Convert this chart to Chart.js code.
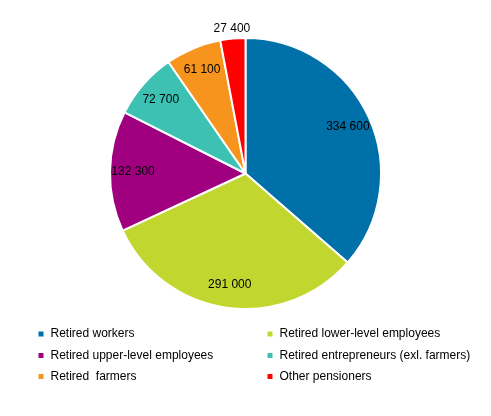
<!DOCTYPE html>
<html>
<head>
<meta charset="utf-8">
<script src="https://cdn.jsdelivr.net/npm/chart.js@4.4.1/dist/chart.umd.min.js"></script>
<style>
  html, body { margin: 0; padding: 0; background: #fff; }
  #wrap { width: 491px; height: 416px; position: relative; }
</style>
</head>
<body>
<div id="wrap"><canvas id="chart"></canvas></div>
<script>
const categories = [
  'Retired workers',
  'Retired lower-level employees',
  'Retired upper-level employees',
  'Retired entrepreneurs (exl. farmers)',
  'Retired  farmers',
  'Other pensioners'
]
const pensioners = [334600, 291000, 132300, 72700, 61100, 27400]
const colors = ['#0070a8', '#c1d72f', '#a0007f', '#3cc1b3', '#f7941d', '#ff0000']

const fmt = (v) => String(v).replace(/\B(?=(\d{3})+(?!\d))/g, ' ')

// value labels: inside the slice, small slices go just outside
const sliceLabels = {
  id: 'sliceLabels',
  afterDatasetsDraw (chart) {
    const ctx = chart.ctx
    const meta = chart.getDatasetMeta(0)
    ctx.save()
    ctx.font = '12px "Liberation Sans", Arial, sans-serif'
    ctx.fillStyle = '#000'
    ctx.textAlign = 'center'
    ctx.textBaseline = 'middle'
    meta.data.forEach((arc, i) => {
      const p = arc.getProps(['x', 'y', 'startAngle', 'endAngle', 'outerRadius'], true)
      const mid = (p.startAngle + p.endAngle) / 2
      const span = p.endAngle - p.startAngle
      const r = span < 0.3 ? p.outerRadius + 10 : p.outerRadius * 0.83
      ctx.fillText(fmt(pensioners[i]), p.x + Math.cos(mid) * r, p.y + Math.sin(mid) * r)
    })
    ctx.restore()
  }
}

// two-column legend under the pie
const gridLegend = {
  id: 'gridLegend',
  afterDraw (chart) {
    const ctx = chart.ctx
    const cols = [41, 270]
    const rows = [334, 355.5, 376.5]
    ctx.save()
    ctx.font = '12px "Liberation Sans", Arial, sans-serif'
    ctx.textBaseline = 'middle'
    ctx.textAlign = 'left'
    categories.forEach((label, i) => {
      const x = cols[i % 2]
      const y = rows[Math.floor(i / 2)]
      ctx.fillStyle = colors[i]
      ctx.fillRect(x - 2.5, y - 2.5, 5, 5)
      ctx.fillStyle = '#000'
      ctx.fillText(label, x + 9.5, y)
    })
    ctx.restore()
  }
}

new Chart(document.getElementById('chart').getContext('2d'), {
  type: 'pie',
  data: {
    labels: categories,
    datasets: [{
      data: pensioners,
      backgroundColor: colors,
      borderColor: '#fff',
      borderWidth: 2
    }]
  },
  options: {
    responsive: true,
    maintainAspectRatio: false,
    animation: false,
    layout: { padding: { top: 37, bottom: 106, left: 0, right: 0 } },
    plugins: {
      legend: { display: false },
      tooltip: { enabled: false }
    }
  },
  plugins: [sliceLabels, gridLegend]
})
</script>
</body>
</html>
